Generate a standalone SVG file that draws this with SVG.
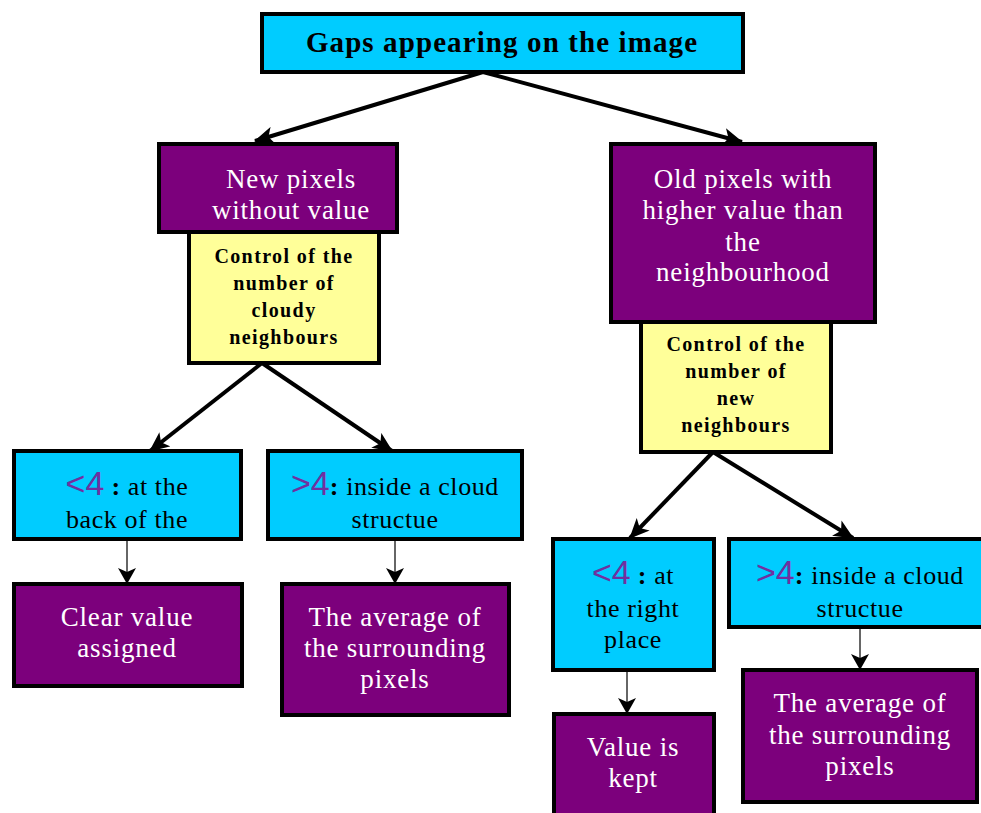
<svg xmlns="http://www.w3.org/2000/svg" width="981" height="813" viewBox="0 0 981 813">
<style>
.box{stroke:#000;stroke-width:4}
.cyan{fill:#00CCFF}
.purple{fill:#7C007C}
.yellow{fill:#FFFF99}
text{font-family:"Liberation Serif","Times New Roman",serif;text-anchor:middle}
.w{fill:#fff;font-size:27px;letter-spacing:0.8px}
.k{fill:#000;font-size:26px;letter-spacing:0.6px}
.y{fill:#000;font-size:20px;font-weight:bold;letter-spacing:1.4px}
.n{fill:#7030A0;font-size:34px;letter-spacing:0;font-family:"Liberation Sans",Arial,sans-serif}
.thick{stroke:#000;stroke-width:4;fill:none}
.thin{stroke:#333;stroke-width:1.5;fill:none}
</style>
<defs>
<marker id="ah" markerUnits="userSpaceOnUse" markerWidth="20" markerHeight="18" viewBox="0 0 20 18" refX="19" refY="9" orient="auto">
<path d="M0,0 L20,9 L0,18 L5,9 z" fill="#000"/>
</marker>
<marker id="ahs" markerUnits="userSpaceOnUse" markerWidth="16" markerHeight="18" viewBox="0 0 16 18" refX="15" refY="9" orient="auto">
<path d="M0,0 L16,9 L0,18 L4,9 z" fill="#000"/>
</marker>
</defs>
<rect width="981" height="813" fill="#fff"/>
<g id="connectors">
<line class="thick" x1="483" y1="72" x2="255" y2="141" marker-end="url(#ah)"/>
<line class="thick" x1="483" y1="72" x2="742" y2="142" marker-end="url(#ah)"/>
<line class="thick" x1="262" y1="363" x2="150" y2="451" marker-end="url(#ah)"/>
<line class="thick" x1="262" y1="363" x2="392" y2="451" marker-end="url(#ah)"/>
<line class="thick" x1="713" y1="452" x2="630" y2="538" marker-end="url(#ah)"/>
<line class="thick" x1="713" y1="452" x2="853" y2="538" marker-end="url(#ah)"/>
<line class="thin" x1="127" y1="539" x2="127" y2="583" marker-end="url(#ahs)"/>
<line class="thin" x1="395" y1="539" x2="395" y2="583" marker-end="url(#ahs)"/>
<line class="thin" x1="627" y1="670" x2="627" y2="713" marker-end="url(#ahs)"/>
<line class="thin" x1="860" y1="627" x2="860" y2="669" marker-end="url(#ahs)"/>
</g>
<g id="n-gaps">
<rect class="box cyan" x="262" y="14" width="481" height="58"/>
<text x="502" y="52" style="font-size:29px;font-weight:bold;letter-spacing:1.1px" fill="#000">Gaps appearing on the image</text>
</g>
<g id="n-new">
<rect class="box purple" x="159" y="144" width="238" height="88"/>
<text class="w" x="291" y="188">New pixels</text>
<text class="w" x="291" y="219">without value</text>
</g>
<g id="n-ctrl-cloudy">
<rect class="box yellow" x="189" y="232" width="190" height="131"/>
<text class="y" x="284" y="263">Control of the</text>
<text class="y" x="284" y="290">number of</text>
<text class="y" x="284" y="317">cloudy</text>
<text class="y" x="284" y="344">neighbours</text>
</g>
<g id="n-old">
<rect class="box purple" x="611" y="144" width="264" height="178"/>
<text class="w" x="743" y="188">Old pixels with</text>
<text class="w" x="743" y="219">higher value than</text>
<text class="w" x="743" y="251">the</text>
<text class="w" x="743" y="281">neighbourhood</text>
</g>
<g id="n-ctrl-new">
<rect class="box yellow" x="641" y="322" width="190" height="130"/>
<text class="y" x="736" y="351">Control of the</text>
<text class="y" x="736" y="378">number of</text>
<text class="y" x="736" y="405">new</text>
<text class="y" x="736" y="432">neighbours</text>
</g>
<g id="n-lt4-left">
<rect class="box cyan" x="14" y="451" width="227" height="88"/>
<text class="k" x="127" y="495"><tspan class="n">&lt;4</tspan><tspan font-weight="bold"> : </tspan> at the</text>
<text class="k" x="127" y="528">back of the</text>
</g>
<g id="n-gt4-left">
<rect class="box cyan" x="268" y="451" width="254" height="88"/>
<text class="k" x="395" y="495"><tspan class="n">&gt;4</tspan><tspan font-weight="bold">:</tspan> inside a cloud</text>
<text class="k" x="395" y="528">structue</text>
</g>
<g id="n-clear">
<rect class="box purple" x="14" y="584" width="228" height="102"/>
<text class="w" x="127" y="626">Clear value</text>
<text class="w" x="127" y="657">assigned</text>
</g>
<g id="n-avg-left">
<rect class="box purple" x="282" y="584" width="227" height="131"/>
<text class="w" x="395" y="626">The average of</text>
<text class="w" x="395" y="657">the surrounding</text>
<text class="w" x="395" y="688">pixels</text>
</g>
<g id="n-lt4-right">
<rect class="box cyan" x="553" y="539" width="161" height="131"/>
<text class="k" x="633" y="584"><tspan class="n">&lt;4</tspan><tspan font-weight="bold"> : </tspan> at</text>
<text class="k" x="633" y="617">the right</text>
<text class="k" x="633" y="648">place</text>
</g>
<g id="n-gt4-right">
<rect class="box cyan" x="729" y="539" width="256" height="88"/>
<text class="k" x="860" y="584"><tspan class="n">&gt;4</tspan><tspan font-weight="bold">:</tspan> inside a cloud</text>
<text class="k" x="860" y="617">structue</text>
</g>
<g id="n-kept">
<rect class="box purple" x="554" y="714" width="160" height="104"/>
<text class="w" x="633" y="756">Value is</text>
<text class="w" x="633" y="787">kept</text>
</g>
<g id="n-avg-right">
<rect class="box purple" x="743" y="670" width="234" height="132"/>
<text class="w" x="860" y="712">The average of</text>
<text class="w" x="860" y="744">the surrounding</text>
<text class="w" x="860" y="775">pixels</text>
</g>
</svg>
